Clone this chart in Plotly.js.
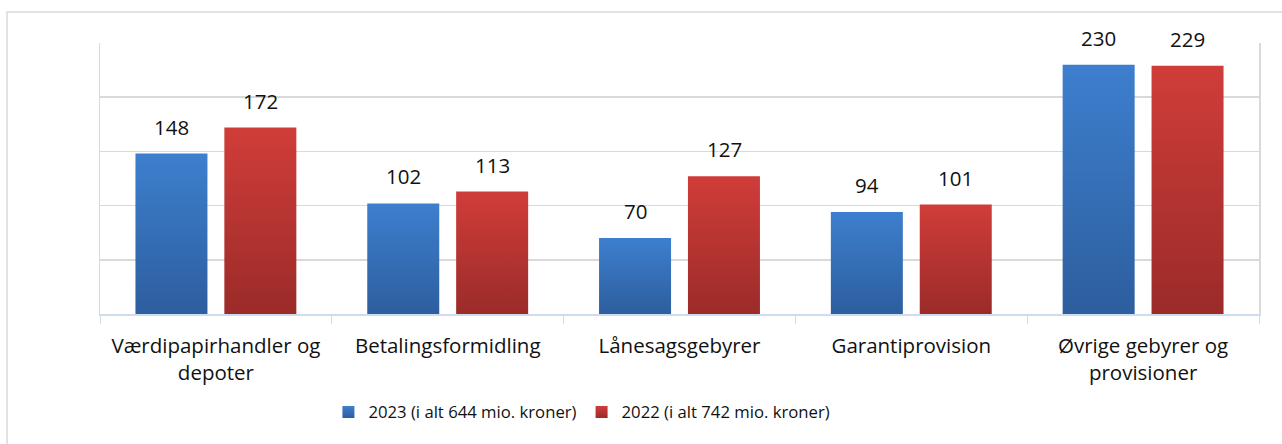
<!DOCTYPE html>
<html>
<head>
<meta charset="utf-8">
<script src="https://cdn.plot.ly/plotly-3.0.1.min.js"></script>
<style>
html,body{margin:0;padding:0;background:#fff;}
#chart{width:1282px;height:444px;}
</style>
</head>
<body>
<div id="chart"></div>
<script>
const categories = ["Værdipapirhandler og<br>depoter", "Betalingsformidling", "Lånesagsgebyrer", "Garantiprovision", "Øvrige gebyrer og<br>provisioner"];
const values2023 = [148, 102, 70, 94, 230];
const values2022 = [172, 113, 127, 101, 229];
const seriesNames = ["2023 (i alt 644 mio. kroner)", "2022 (i alt 742 mio. kroner)"];

const FONT = "Open Sans, Noto Sans, sans-serif";

const traces = [
  {type:"bar", x:categories, y:values2023, name:seriesNames[0],
   marker:{color:"#3670b9"}, hoverinfo:"skip"},
  {type:"bar", x:categories, y:values2022, name:seriesNames[1],
   marker:{color:"#bb3633"}, hoverinfo:"skip"}
];

const annotations = [];
[values2023, values2022].forEach((vals, si) => {
  vals.forEach((v, i) => {
    annotations.push({x:categories[i], y:v, xref:"x", yref:"y", text:String(v),
      showarrow:false, xshift: si === 0 ? -44.5 : 44.5, yshift:11, yanchor:"bottom",
      font:{family:FONT, size:20.5, color:"#111"}});
  });
});

const layout = {
  width:1282, height:444,
  margin:{l:100, r:22.5, t:43, b:130},
  paper_bgcolor:"#fff", plot_bgcolor:"#fff",
  font:{family:FONT, size:20.5, color:"#111"},
  barmode:"group", bargap:0.233, bargroupgap:0.19,
  showlegend:true,
  legend:{orientation:"h", x:0.4158, xanchor:"center", y:-0.362, yanchor:"middle",
    font:{family:FONT, size:16.7, color:"#111"}, itemwidth:30, traceorder:"normal"},
  xaxis:{type:"category", showline:true, linecolor:"#cddcee", linewidth:1.5,
    ticks:"outside", tickson:"boundaries", ticklen:8, tickcolor:"#cddcee",
    ticklabelstandoff:13,
    showgrid:false, tickfont:{family:FONT, size:20.5, color:"#111"}, fixedrange:true},
  yaxis:{range:[0,250], dtick:50, showticklabels:false, showgrid:true, gridcolor:"#d9d9d9",
    gridwidth:1.5, zeroline:false, showline:true, mirror:true, linecolor:"#d9d9d9", linewidth:1.5, fixedrange:true},
  annotations:annotations,
  shapes:[{type:"rect", xref:"paper", yref:"paper", x0:-0.0802, x1:1.05, y0:-0.7, y1:1.1144,
    line:{color:"#d9d9d9", width:1.5}, fillcolor:"rgba(0,0,0,0)", layer:"below"}]
};

Plotly.newPlot("chart", traces, layout, {staticPlot:true}).then(gd => {
  const svg = gd.querySelector("svg.main-svg");
  const ns = "http://www.w3.org/2000/svg";
  let defs = svg.querySelector("defs");
  const grads = [["gBlue","#3d7fce","#2d5e9e"],["gRed","#d03d39","#9b2b29"]];
  grads.forEach(([id,c1,c2]) => {
    const lg = document.createElementNS(ns,"linearGradient");
    lg.setAttribute("id",id); lg.setAttribute("x1","0"); lg.setAttribute("y1","0");
    lg.setAttribute("x2","0"); lg.setAttribute("y2","1");
    [[0,c1],[1,c2]].forEach(([o,c]) => {
      const s = document.createElementNS(ns,"stop");
      s.setAttribute("offset",o); s.setAttribute("stop-color",c); lg.appendChild(s);
    });
    defs.appendChild(lg);
  });
  gd.querySelectorAll(".barlayer .trace").forEach((t, i) => {
    t.querySelectorAll("path").forEach(p => { p.style.fill = "url(#" + grads[i][0] + ")"; });
  });
  gd.querySelectorAll(".legend .traces").forEach((t, i) => {
    t.querySelectorAll(".legendpoints path").forEach(p => { p.style.fill = "url(#" + grads[i][0] + ")"; });
  });
});
</script>
</body>
</html>
